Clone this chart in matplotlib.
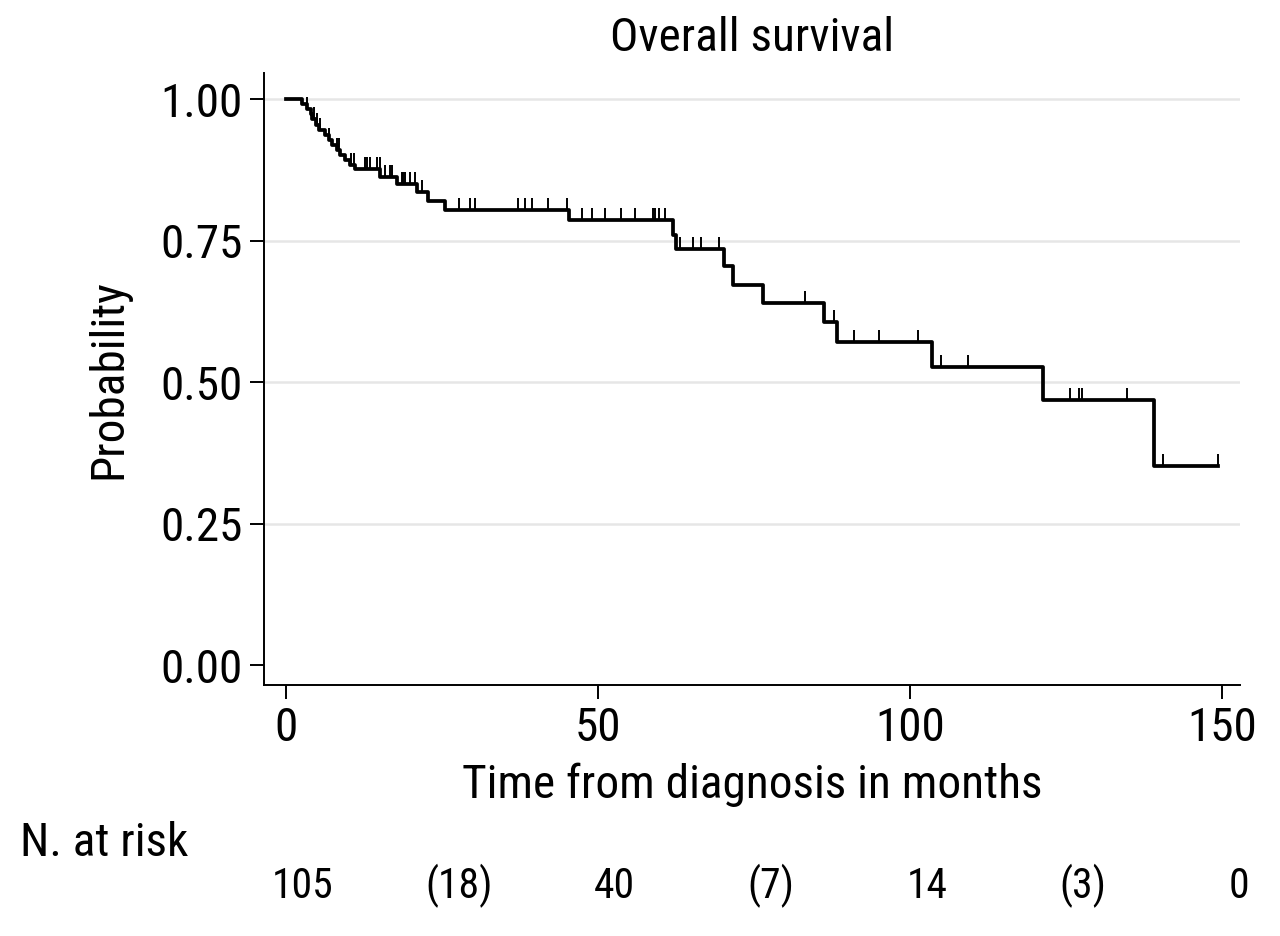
import matplotlib
matplotlib.use("Agg")
import matplotlib.pyplot as plt
import matplotlib.transforms as mtransforms
from matplotlib import font_manager
from matplotlib.path import Path
import numpy as np

# pick a condensed sans face if available
cond_family = None
cond_stretch = 'normal'
names = {f.name: f for f in font_manager.fontManager.ttflist}
for cand in ['Liberation Sans Narrow', 'Roboto Condensed', 'DejaVu Sans Condensed', 'Open Sans Condensed']:
    if cand in names:
        cond_family = cand
        break
if cond_family is None:
    for f in font_manager.fontManager.ttflist:
        if f.name == 'DejaVu Sans' and f.stretch in ('condensed', 'semi-condensed') and f.weight in (400, 'normal', 'regular'):
            cond_family = 'DejaVu Sans'
            cond_stretch = 'condensed'
            break
if cond_family is None:
    cond_family = 'DejaVu Sans'
plt.rcParams['font.family'] = [cond_family, 'DejaVu Sans']
plt.rcParams['font.stretch'] = cond_stretch

# Kaplan-Meier step data (time of event, survival after event)
event_times = [2.7, 3.4, 4.0, 4.3, 4.8, 5.4, 6.3, 6.9, 7.5, 8.2, 8.8, 9.5, 10.3, 11.1,
               15.2, 17.8, 21.0, 22.8, 25.6, 45.4, 62.0, 62.5, 70.2, 71.6, 76.4,
               86.2, 88.3, 103.5, 121.3, 139.0]
survival = [0.991, 0.982, 0.973, 0.964, 0.955, 0.946, 0.937, 0.928, 0.919, 0.910,
            0.901, 0.892, 0.884, 0.876, 0.862, 0.850, 0.836, 0.820, 0.804, 0.786,
            0.760, 0.735, 0.705, 0.671, 0.640, 0.606, 0.571, 0.527, 0.468, 0.352]
end_time = 149.4

censor_times = [3.5, 4.6, 5.0, 5.5, 7.0, 8.2, 8.6, 10.5, 11.0,
                12.8, 13.1, 13.5, 14.7, 15.1,
                16.0, 16.8, 17.1,
                18.6, 18.8, 19.1, 19.9, 20.8, 21.8,
                27.8, 29.6, 30.4, 37.2, 38.3, 39.4, 42.1, 45.0,
                47.4, 49.0, 51.1, 53.7, 55.9, 58.8, 59.1, 59.8, 60.7,
                63.1, 65.2, 66.5, 69.4,
                83.2, 87.8, 91.0, 95.0, 101.3,
                105.0, 109.3, 125.6, 127.1, 127.6, 134.8, 140.5, 149.4]

risk_times = [0, 25, 50, 75, 100, 125, 150]
risk_labels = ['105', '(18)', '40', '(7)', '14', '(3)', '0']

xticks = [0, 50, 100, 150]
yticks = [0.00, 0.25, 0.50, 0.75, 1.00]
grid_levels = [0.25, 0.50, 0.75, 1.00]

fig = plt.figure(figsize=(12.8, 9.36), dpi=100)
ax = fig.add_axes([0.206, 0.268, 0.763, 0.654])

# build step curve
t = np.concatenate([[0.0], event_times, [end_time]])
s = np.concatenate([[1.0], survival, [survival[-1]]])

for g in grid_levels:
    ax.axhline(g, color='#e6e6e6', lw=1.8, zorder=0)

ax.step(t, s, where='post', color='black', lw=2.7, zorder=3)

# censor marks
all_t = np.concatenate([[0.0], event_times])
all_s = np.concatenate([[1.0], survival])
ct = np.array(censor_times)
idx = np.searchsorted(all_t, ct, side='right') - 1
cs = all_s[idx]
tick_marker = Path([(0, 0), (0, 1)], [Path.MOVETO, Path.LINETO])
ax.plot(ct, cs, linestyle='none', marker=tick_marker, markersize=17,
        markeredgewidth=1.4, color='black', zorder=4)

ax.set_xlim(-3.5, 152.9)
ax.set_ylim(-0.035, 1.046)
ax.set_xticks(xticks)
ax.set_xticklabels([str(x) for x in xticks])
ax.set_yticks(yticks)
ax.set_yticklabels([f'{y:.2f}' for y in yticks])
ax.tick_params(axis='both', labelsize=34, length=10, width=1.4, direction='out', pad=5)
for sp in ['top', 'right']:
    ax.spines[sp].set_visible(False)
for sp in ['left', 'bottom']:
    ax.spines[sp].set_linewidth(1.4)

ax.set_xlabel('Time from diagnosis in months', fontsize=34, labelpad=9)
ax.set_ylabel('Probability', fontsize=34, labelpad=22)
ax.set_title('Overall survival', fontsize=34, pad=16)

fig.text(20/1280, 1 - 843/936, 'N. at risk', fontsize=34, ha='left', va='center')
trans = mtransforms.blended_transform_factory(ax.transData, fig.transFigure)
trans = trans + mtransforms.ScaledTranslation(17/100, 0, fig.dpi_scale_trans)
for rt, rl in zip(risk_times, risk_labels):
    fig.text(rt, 1 - 886/936, rl, fontsize=30, ha='center', va='center', transform=trans)

fig.savefig('out.png', dpi=100)
